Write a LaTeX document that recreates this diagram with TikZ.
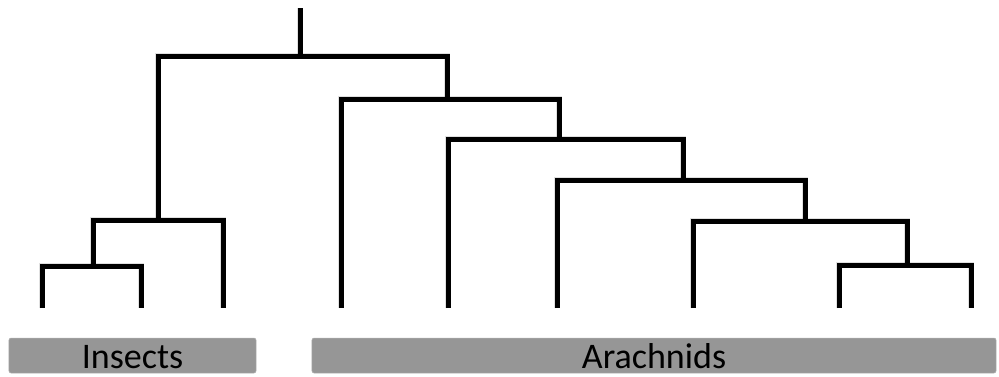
\documentclass[tikz,border=0pt]{standalone}
\usepackage{fontspec}
\setmainfont{Carlito}
\begin{document}
\begin{tikzpicture}[x=1bp,y=-1bp,
  branch/.style={line width=5bp, line join=miter, line cap=butt, black},
  halo/.style={line width=6bp, line join=miter, black, opacity=0.12, shift={(1.5,2.5)}},
  groupbar/.style={fill=black!41, draw=black!30, line width=0.5bp, rounded corners=2bp,
    minimum height=35bp, inner sep=0pt},
  grouplabel/.style={anchor=base, text=black,
    font=\fontsize{36bp}{42bp}\selectfont}]
\useasboundingbox (0,0) rectangle (999,376);

% root stem and internal junctions
\coordinate (r0) at (300,8);
\coordinate (n1) at (300,56);
\coordinate (n2) at (158,220);
\coordinate (n4) at (93,266);
\coordinate (n3) at (447,99);
\coordinate (n5) at (559,139);
\coordinate (n6) at (683,180);
\coordinate (n7) at (805,221);
\coordinate (n8) at (907,265);

% leaf tips
\coordinate (a) at (42,308);
\coordinate (b) at (141,308);
\coordinate (c) at (223,308);
\coordinate (d) at (341,308);
\coordinate (e) at (448,308);
\coordinate (f) at (557,308);
\coordinate (g) at (693,308);
\coordinate (h) at (839,308);
\coordinate (i) at (971,308);

% faint drop shadow under the branches
\begin{scope}[halo]
  \draw (n1) -- (r0);
  \draw (n2) |- (n1) -| (n3);
  \draw (n4) |- (n2) -| (c);
  \draw (a) |- (n4) -| (b);
  \draw (d) |- (n3) -| (n5);
  \draw (e) |- (n5) -| (n6);
  \draw (f) |- (n6) -| (n7);
  \draw (g) |- (n7) -| (n8);
  \draw (h) |- (n8) -| (i);
\end{scope}

% branches
\begin{scope}[branch]
  \draw (n1) -- (r0);
  \draw (n2) |- (n1) -| (n3);
  \draw (n4) |- (n2) -| (c);
  \draw (a) |- (n4) -| (b);
  \draw (d) |- (n3) -| (n5);
  \draw (e) |- (n5) -| (n6);
  \draw (f) |- (n6) -| (n7);
  \draw (g) |- (n7) -| (n8);
  \draw (h) |- (n8) -| (i);
\end{scope}

% group bars
\node[groupbar, minimum width=247bp] (insects) at (132.5,355.5) {};
\node[grouplabel] (insectslabel) at (132.5,368.5) {Insects};
\node[groupbar, minimum width=684bp] (arachnids) at (654,355.5) {};
\node[grouplabel] (arachnidslabel) at (654,368.5) {Arachnids};
\end{tikzpicture}
\end{document}
